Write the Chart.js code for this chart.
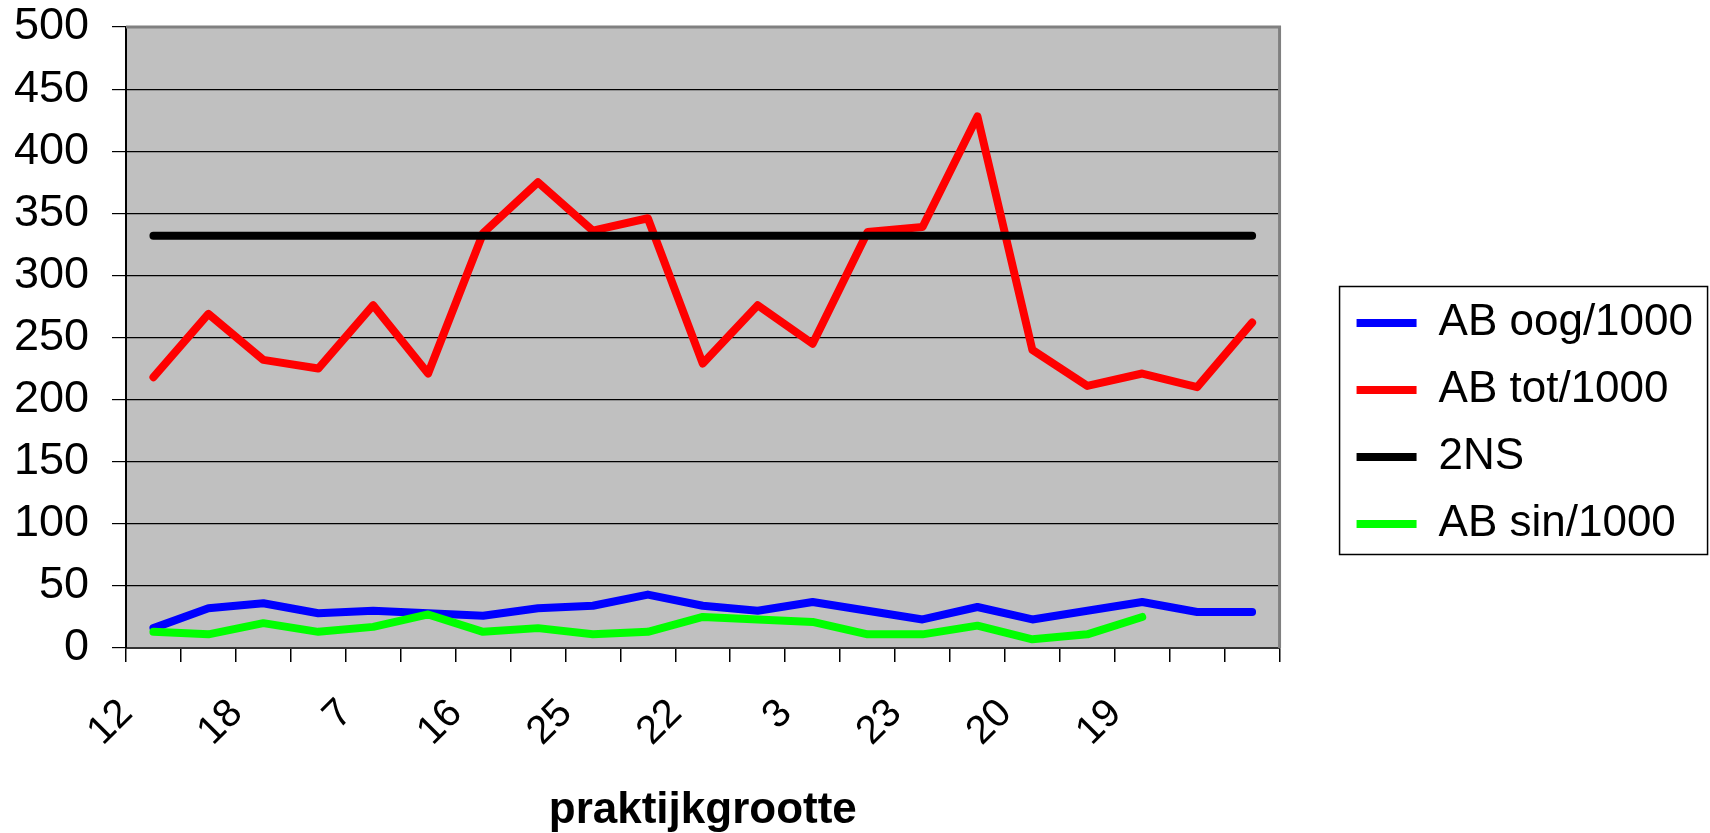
<!DOCTYPE html>
<html>
<head>
<meta charset="utf-8">
<title>praktijkgrootte</title>
<script src="https://cdn.jsdelivr.net/npm/chart.js@4/dist/chart.umd.min.js"></script>
<style>
  html, body { margin: 0; padding: 0; background: #fff; }
</style>
</head>
<body>
<canvas id="line" width="1710" height="833"></canvas>
<script>
// categories (only every other label is printed on the axis)
const categories = ['12', '', '18', '', '7', '', '16', '', '25', '', '22', '', '3', '', '23', '', '20', '', '19', '', ''];

const abOog = [16, 32, 36, 28, 30, 28, 26, 32, 34, 43, 34, 30, 37, 30, 23, 33, 23, 30, 37, 29, 29];
const abTot = [218, 269, 232, 225, 276, 221, 334, 375, 336, 346, 229, 276, 245, 335, 339, 428, 240, 211, 221, 210, 262];
const twoNS = [332, 332, 332, 332, 332, 332, 332, 332, 332, 332, 332, 332, 332, 332, 332, 332, 332, 332, 332, 332, 332];
const abSin = [13, 11, 20, 13, 17, 27, 13, 16, 11, 13, 25, 23, 21, 11, 11, 18, 7, 11, 25, null, null];

const seriesNames = ['AB oog/1000', 'AB tot/1000', '2NS', 'AB sin/1000'];
const yTicks = [0, 50, 100, 150, 200, 250, 300, 350, 400, 450, 500];

const FONT = 'Liberation Sans, Arial, Helvetica, sans-serif';

function lineSet(label, data, color, order) {
  return {
    label: label,
    data: data,
    borderColor: color,
    backgroundColor: color,
    borderWidth: 8,
    borderCapStyle: 'round',
    borderJoinStyle: 'round',
    pointRadius: 0,
    pointHoverRadius: 0,
    tension: 0,
    fill: false,
    order: order
  };
}

// grey plot area like the old excel charts
const plotArea = {
  id: 'plotArea',
  beforeDraw(chart) {
    const { ctx, chartArea: a } = chart;
    ctx.save();
    ctx.fillStyle = '#c0c0c0';
    ctx.fillRect(a.left, a.top, a.right - a.left, a.bottom - a.top);
    ctx.restore();
  },
  beforeDatasetsDraw(chart) {
    const { ctx, chartArea: a } = chart;
    ctx.save();
    ctx.strokeStyle = '#808080';
    ctx.lineWidth = 3;
    ctx.beginPath();
    ctx.moveTo(a.left, a.top);
    ctx.lineTo(a.right, a.top);
    ctx.lineTo(a.right, a.bottom);
    ctx.stroke();
    ctx.restore();
  }
};

// frame round the legend
const legendFrame = {
  id: 'legendFrame',
  afterDraw(chart) {
    const hb = chart.legend && chart.legend.legendHitBoxes;
    if (!hb || !hb.length) return;
    const first = hb[0];
    const last = hb[hb.length - 1];
    const top = first.top - 14.5;
    const ctx = chart.ctx;
    ctx.save();
    ctx.strokeStyle = '#000';
    ctx.lineWidth = 1.5;
    ctx.strokeRect(first.left - 17, top, 368, last.top + last.height + 8.5 - top);
    ctx.restore();
  }
};

const lineCtx = document.getElementById('line');
window.myLine = new Chart(lineCtx, {
  type: 'line',
  data: {
    labels: categories,
    datasets: [
      lineSet(seriesNames[0], abOog, '#0000ff', 4),
      lineSet(seriesNames[1], abTot, '#ff0000', 3),
      lineSet(seriesNames[2], twoNS, '#000000', 2),
      lineSet(seriesNames[3], abSin, '#00ff00', 1)
    ]
  },
  options: {
    responsive: false,
    devicePixelRatio: 1,
    animation: false,
    layout: { padding: { left: 14, right: 7, top: 14, bottom: 0 } },
    plugins: {
      tooltip: { enabled: false },
      legend: {
        position: 'right',
        maxWidth: 450,
        labels: {
          usePointStyle: true,
          pointStyle: 'line',
          pointStyleWidth: 60,
          padding: 23,
          color: '#000',
          font: { family: FONT, size: 44 },
          sort: (a, b) => a.datasetIndex - b.datasetIndex
        }
      }
    },
    scales: {
      x: {
        offset: true,
        grid: {
          offset: true,
          drawOnChartArea: false,
          drawTicks: true,
          tickLength: 14,
          color: '#000',
          lineWidth: 1.5
        },
        border: { display: true, color: '#333', width: 2 },
        ticks: {
          autoSkip: false,
          maxRotation: 45,
          minRotation: 45,
          padding: 28,
          labelOffset: -27,
          color: '#000',
          font: { family: FONT, size: 40 }
        },
        title: {
          display: true,
          text: 'praktijkgrootte',
          color: '#000',
          font: { family: FONT, size: 44, weight: 'bold', lineHeight: 1 },
          padding: 0
        },
        afterFit(scale) {
          scale.height = 185;
          scale.paddingLeft = 0;
          scale.paddingRight = 0;
        }
      },
      y: {
        min: 0,
        max: 500,
        afterBuildTicks(scale) { scale.ticks = yTicks.map(v => ({ value: v })); },
        afterFit(scale) {
          scale.width = 112;
          scale.paddingTop = 27;
        },
        grid: {
          color: '#000',
          lineWidth: 1.2,
          tickLength: 14
        },
        border: { display: true, color: '#000', width: 2 },
        ticks: {
          padding: 23,
          color: '#000',
          font: { family: FONT, size: 45 }
        }
      },
      // empty axis only to keep the gap between plot and legend
      gap: {
        position: 'right',
        display: true,
        grid: { display: false },
        border: { display: false },
        ticks: { display: false },
        afterFit(scale) { scale.width = 54; }
      }
    }
  },
  plugins: [plotArea, legendFrame]
});
</script>
</body>
</html>
